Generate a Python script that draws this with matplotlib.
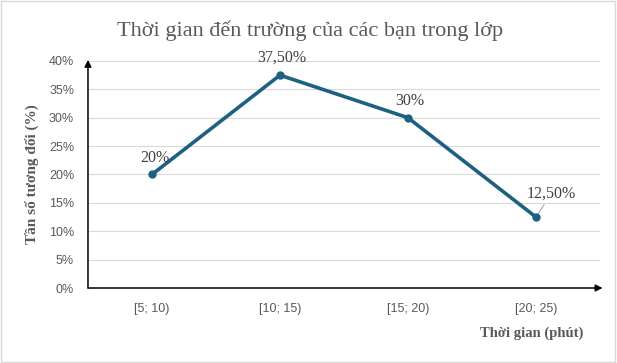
import matplotlib.pyplot as plt
from matplotlib.patches import Rectangle

categories = ['[5; 10)', '[10; 15)', '[15; 20)', '[20; 25)']
values = [20, 37.5, 30, 12.5]
point_labels = ['20%', '37,50%', '30%', '12,50%']
yticks = [0, 5, 10, 15, 20, 25, 30, 35, 40]

line_color = '#1d6082'
text_gray = '#595959'

fig = plt.figure(figsize=(6.17, 3.63), dpi=100)
fig.patches.append(Rectangle((0.002, 0.003), 0.995, 0.993, transform=fig.transFigure,
                             fill=False, edgecolor='#d9d9d9', linewidth=1))
ax = fig.add_axes([0.1426, 0.2066, 0.8298, 0.6254])

xs = [i + 0.5 for i in range(len(categories))]
ax.plot(xs, values, color=line_color, lw=2.6, marker='o', markersize=5, zorder=3)

ax.set_xlim(0, 4)
ax.set_ylim(0, 40)
ax.set_yticks(yticks)
ax.set_yticklabels([f'{t}%' for t in yticks], fontfamily='Liberation Sans', fontsize=9, color=text_gray)
ax.set_xticks(xs)
ax.set_xticklabels(categories, fontfamily='Liberation Sans', fontsize=9, color=text_gray)
ax.tick_params(length=0, pad=10)
ax.tick_params(axis='x', pad=11)
ax.grid(axis='y', color='#d9d9d9', lw=0.8)
ax.set_axisbelow(True)
for s in ax.spines.values():
    s.set_visible(False)

# axis arrows
ax.annotate('', xy=(0, 1.005), xytext=(0, 0), xycoords='axes fraction',
            arrowprops=dict(arrowstyle='-|>', color='black', lw=1.1, mutation_scale=10, shrinkA=0, shrinkB=0))
ax.annotate('', xy=(1.005, 0), xytext=(0, 0), xycoords='axes fraction',
            arrowprops=dict(arrowstyle='-|>', color='black', lw=1.1, mutation_scale=10, shrinkA=0, shrinkB=0))

# data labels
offsets = [(2, 6), (1, 7), (1, 6), (11, 11)]
for x, v, lab, (dx, dy) in zip(xs, values, point_labels, offsets):
    if lab == '12,50%':
        ax.annotate(lab, xy=(x, v), xytext=(dx, dy), textcoords='offset points',
                    ha='center', va='bottom', fontfamily='Liberation Serif', fontsize=11.5, color='#404040',
                    arrowprops=dict(arrowstyle='-', color='#a6a6a6', lw=0.8, shrinkA=0, shrinkB=3))
    else:
        ax.annotate(lab, xy=(x, v), xytext=(dx, dy), textcoords='offset points',
                    ha='center', va='bottom', fontfamily='Liberation Serif', fontsize=11.5, color='#404040')

fig.text(0.503, 0.915, 'Thời gian đến trường của các bạn trong lớp', ha='center', va='center',
         fontfamily='Liberation Serif', fontsize=16, color=text_gray)
fig.text(0.052, 0.52, 'Tần số tương đối (%)', ha='center', va='center', rotation=90,
         fontfamily='Liberation Serif', fontsize=11, fontweight='bold', color=text_gray)
fig.text(0.945, 0.083, 'Thời gian (phút)', ha='right', va='center',
         fontfamily='Liberation Serif', fontsize=10.5, fontweight='bold', color=text_gray)

fig.savefig('out.png', dpi=100)
